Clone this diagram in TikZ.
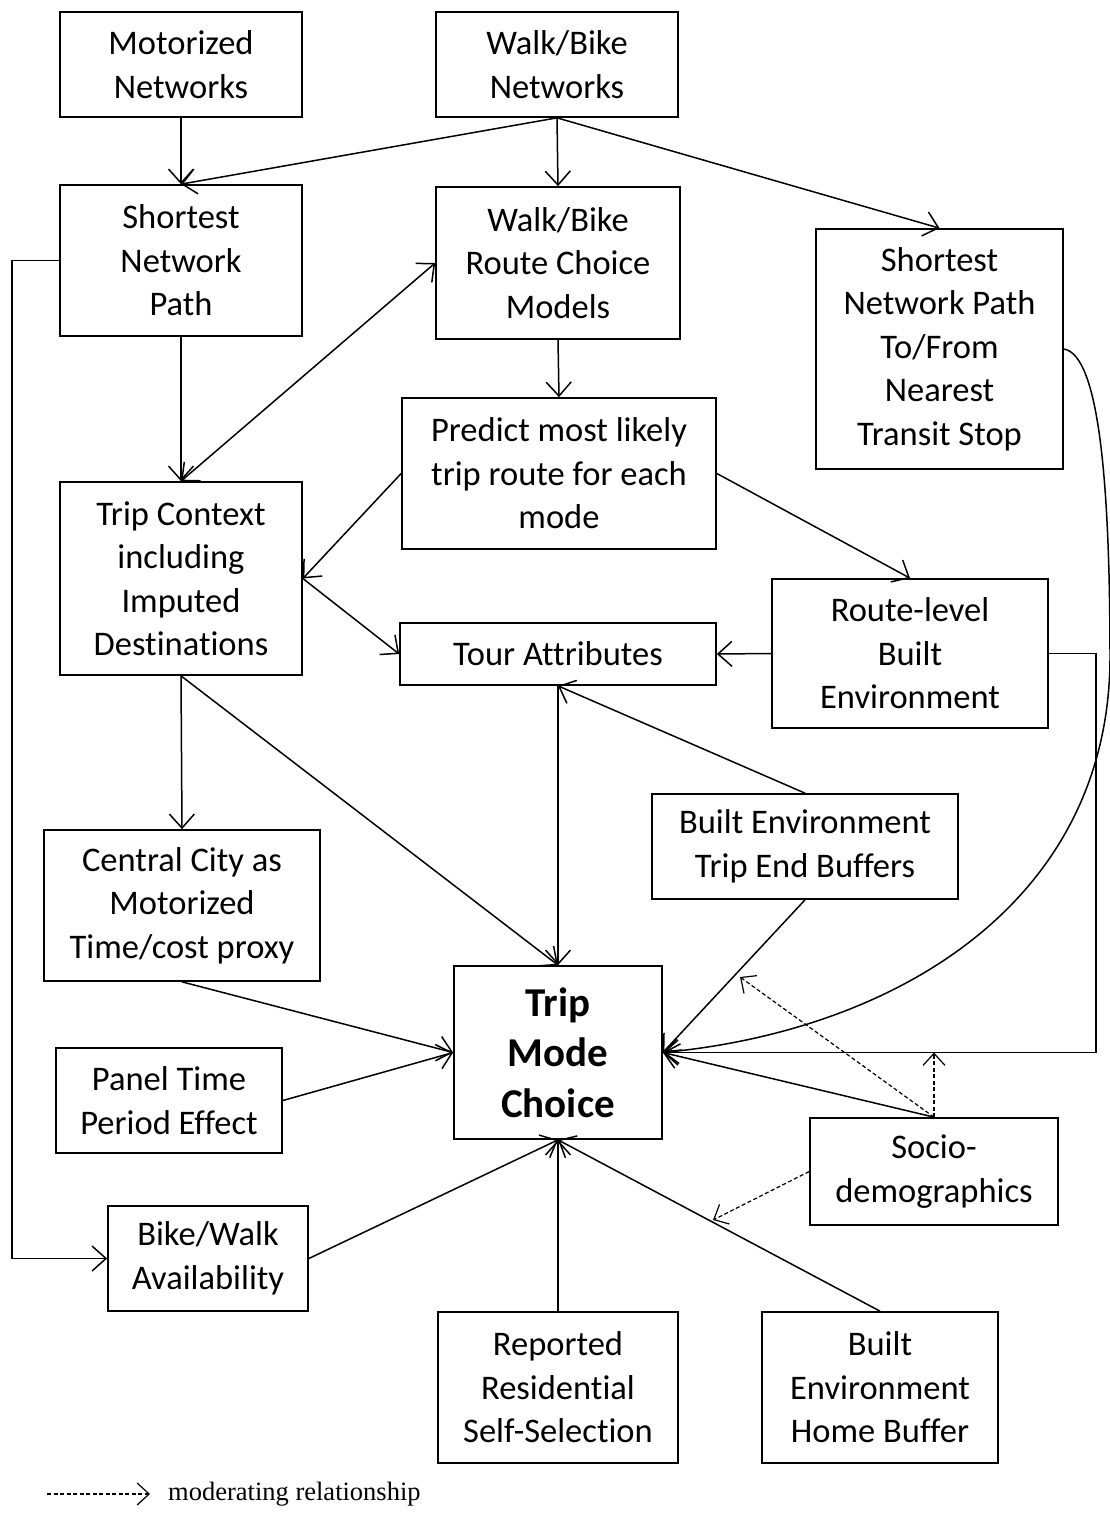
\documentclass[tikz,border=0pt]{standalone}
\usepackage{fontspec}
\setmainfont{Carlito}[Ligatures=CommonOff]
\newfontfamily\legendfont{Liberation Serif}[Ligatures=CommonOff]
\usetikzlibrary{arrows.meta}
\begin{document}
\begin{tikzpicture}[x=1pt,y=-1pt,
  box/.style args={#1/#2}{draw, line width=1.7pt, minimum width=#1, minimum height=#2,
     inner sep=0pt, align=center, font=\fontsize{34.5}{43.5}\selectfont},
  conn/.style={line width=1.5pt, -{Straight Barb[length=14pt,width=25pt,line width=1.5pt]}},
  bothconn/.style={line width=1.5pt, {Straight Barb[length=14pt,width=25pt,line width=1.5pt]}-{Straight Barb[length=14pt,width=25pt,line width=1.5pt]}},
  modconn/.style={line width=1.2pt, dash pattern=on 4pt off 2.5pt, -{Straight Barb[length=12pt,width=22pt,line width=1.2pt]}}
]
\useasboundingbox (0,0) rectangle (1110,1515);

% boxes
\node[box=242pt/105pt] (mn)  at (181,64.5)   {Motorized\\Networks};
\node[box=242pt/105pt] (wbn) at (557,64.5)   {Walk/Bike\\Networks};
\node[box=242pt/151pt] (snp) at (181,260.5)  {Shortest\\Network\\Path};
\node[box=244pt/152pt] (wbr) at (558,263)    {Walk/Bike\\Route Choice\\Models};
\node[box=247pt/240pt] (ts)  at (939.5,349)  {Shortest\\Network Path\\To/From\\Nearest\\Transit Stop};
\node[box=314pt/151pt] (pr)  at (559,473.5)  {Predict most likely\\trip route for each\\mode};
\node[box=242pt/193pt] (tc)  at (181,578.5)  {Trip Context\\including\\Imputed\\Destinations};
\node[box=316pt/62pt]  (ta)  at (558,654)    {Tour Attributes};
\node[box=276pt/149pt] (rl)  at (910,653.5)  {Route-level\\Built\\Environment};
\node[box=306pt/105pt] (be)  at (805,846.5)  {Built Environment\\Trip End Buffers};
\node[box=276pt/151pt] (cc)  at (182,905.5)  {Central City as\\Motorized\\Time/cost proxy};
\node[box=208pt/173pt, font=\fontsize{41}{50.5}\selectfont\bfseries] (tmc) at (558,1052.5) {Trip\\Mode\\Choice};
\node[box=226pt/105pt] (pt)  at (169,1100.5) {Panel Time\\Period Effect};
\node[box=248pt/107pt] (sd)  at (934,1171.5) {Socio-\\demographics};
\node[box=200pt/105pt] (bw)  at (208,1258.5) {Bike/Walk\\Availability};
\node[box=240pt/151pt] (rr)  at (558,1387.5) {Reported\\Residential\\Self-Selection};
\node[box=236pt/151pt] (bh)  at (880,1387.5) {Built\\Environment\\Home Buffer};

% helper coordinates
\coordinate (snpL) at (12,260.5);
\coordinate (bwL)  at (12,1258.5);
\coordinate (rlR)  at (1096,653.5);
\coordinate (rlD)  at (1096,1052.5);
\coordinate (m1)   at (740,977);
\coordinate (m2)   at (934,1052.5);
\coordinate (m3)   at (713,1220);
\coordinate (lg1)  at (47,1494);
\coordinate (lg2)  at (150,1494);

% connectors
\draw[conn] (mn.south) -- (snp.north);
\draw[conn] (wbn.south) -- (snp.north);
\draw[conn] (wbn.south) -- (wbr.north);
\draw[conn] (wbn.south) -- (ts.north);
\draw[conn] (snp.south) -- (tc.north);
\draw[conn] (snp.west) -- (snpL) -- (bwL) -- (bw.west);
\draw[bothconn] (tc.north) -- (wbr.west);
\draw[conn] (wbr.south) -- (pr.north);
\draw[conn] (pr.west) -- (tc.east);
\draw[conn] (tc.east) -- (ta.west);
\draw[conn] (pr.east) -- (rl.north);
\draw[conn] (rl.west) -- (ta.east);
\draw[conn] (rl.east) -- (rlR) -- (rlD) -- (tmc.east);
\draw[conn] (ts.east) .. controls (1100,355) and (1110,490) .. (1110,660)
                      .. controls (1108,900) and (900,1030) .. (tmc.east);
\draw[conn] (tc.south) -- (cc.north);
\draw[conn] (tc.south) -- (tmc.north);
\draw[conn] (ta.south) -- (tmc.north);
\draw[conn] (be.north) -- (ta.south);
\draw[conn] (be.south) -- (tmc.east);
\draw[conn] (cc.south) -- (tmc.west);
\draw[conn] (pt.east) -- (tmc.west);
\draw[conn] (bw.east) -- (tmc.south);
\draw[conn] (rr.north) -- (tmc.south);
\draw[conn] (bh.north) -- (tmc.south);
\draw[conn] (sd.north) -- (tmc.east);

% moderating relationships
\draw[modconn] (sd.north) -- (m1);
\draw[modconn] (sd.north) -- (m2);
\draw[modconn] (sd.west) -- (m3);

% legend
\draw[modconn] (lg1) -- (lg2);
\node[anchor=west, inner sep=0pt, font=\legendfont\fontsize{26.5}{30}\selectfont] (lgt) at (168,1494) {moderating relationship};
\end{tikzpicture}
\end{document}
